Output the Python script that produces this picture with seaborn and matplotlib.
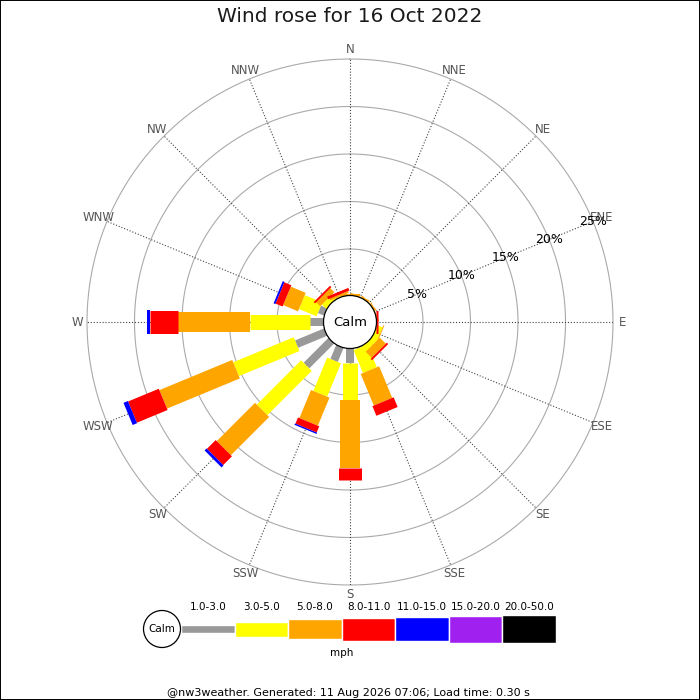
import numpy as np
import matplotlib
matplotlib.use('Agg')
import matplotlib.pyplot as plt
from matplotlib.patches import Circle, Rectangle
import seaborn as sns

sns.set_theme(style="white", rc={'text.color': '#1a1a1a'})
plt.rcParams['font.family'] = ['DejaVu Sans']

# Wind direction sectors (clockwise from north)
directions = ['N', 'NNE', 'NE', 'ENE', 'E', 'ESE', 'SE', 'SSE',
              'S', 'SSW', 'SW', 'WSW', 'W', 'WNW', 'NW', 'NNW']
speed_bins = ['1.0-3.0', '3.0-5.0', '5.0-8.0', '8.0-11.0',
              '11.0-15.0', '15.0-20.0', '20.0-50.0']

# % of time per sector and speed bin
pct_1_3   = [0, 0, 0, 0, 0, 0, 0, 0.2, 1.6, 1.7, 3.8, 3.4, 1.5, 0.8, 0, 0]
pct_3_5   = [0.1, 0.05, 0.05, 0.1, 0, 0.7, 0.7, 2.6, 3.9, 3.8, 6.6, 6.9, 6.3, 2.0, 0.7, 0.2]
pct_5_8   = [0.2, 0.15, 0.15, 0.1, 0.1, 0.1, 0.9, 3.6, 7.2, 3.2, 5.7, 8.3, 7.6, 1.7, 0.6, 0.2]
pct_8_11  = [0, 0, 0, 0, 0.2, 0, 0.2, 1.1, 1.2, 0.7, 1.3, 3.5, 3.0, 0.8, 0.2, 0.3]
pct_11_15 = [0, 0, 0, 0, 0, 0, 0, 0, 0, 0.15, 0.3, 0.5, 0.3, 0.2, 0, 0]
pct_15_20 = [0] * 16
pct_20_50 = [0] * 16

ring_pcts = [5, 10, 15, 20, 25]
ring_labels = ['5%', '10%', '15%', '20%', '25%']

colors = sns.color_palette(['#999999', '#ffff00', '#ffa500', '#ff0000',
                            '#0000ff', '#a020f0', '#000000'])
bar_px = np.array([8, 15, 20, 23, 24, 27, 28])  # bar thickness grows with speed

fig = plt.figure(figsize=(7, 7), dpi=100)
fig.patch.set_facecolor('white')

R = 263 / 700
ax = fig.add_axes([0.5 - R, 0.54 - R, 2 * R, 2 * R], projection='polar')
ax.set_theta_zero_location('N')
ax.set_theta_direction(-1)
ax.set_ylim(0, 25)
ax.set_rorigin(-2.685)
ax.grid(False)
ax.set_xticklabels([])
ax.set_yticklabels([])
for sp in ax.spines.values():
    sp.set_visible(False)
ax.set_facecolor('white')

thetas = np.deg2rad(np.arange(16) * 22.5)

# rings and spokes
circ = np.linspace(0, 2 * np.pi, 400)
for r in ring_pcts:
    ax.plot(circ, np.full_like(circ, r), color='#aaaaaa', lw=0.8, zorder=1,
            clip_on=False)
ax.vlines(thetas, 0, 25, colors='#444444', linestyles=':', lw=0.8, zorder=1)

# stacked bars
series = [pct_1_3, pct_3_5, pct_5_8, pct_8_11, pct_11_15, pct_15_20, pct_20_50]
bottom = np.zeros(16)
for vals, c, w in zip(series, colors, bar_px):
    vals = np.array(vals, dtype=float)
    m = vals > 0
    ax.vlines(thetas[m], bottom[m], bottom[m] + vals[m], colors=[c],
              lw=w * 0.72, capstyle='butt', zorder=3)
    bottom += vals

# calm circle
ax.add_patch(Circle((0.5, 0.5), 26.5 / 526, transform=ax.transAxes,
                    facecolor='white', edgecolor='black', lw=0.9,
                    zorder=5, clip_on=False))
ax.text(0.5, 0.5, 'Calm', transform=ax.transAxes, ha='center', va='center',
        fontsize=9.5, color='black', zorder=6)

# direction labels
for t, d in zip(thetas, directions):
    ax.text(t, 26, d, ha='center', va='center', fontsize=8.5, color='#555555')

# percentage labels along ENE
for r, lab in zip(ring_pcts, ring_labels):
    ax.text(np.deg2rad(67.5), r, lab, ha='center', va='center',
            fontsize=9, color='black', zorder=4)

fig.text(0.5, 1 - 17 / 700, 'Wind rose for 16 Oct 2022', ha='center',
         va='center', fontsize=14.5)

# speed legend
ax_leg = fig.add_axes([181 / 700, (700 - 659) / 700, 375 / 700, 60 / 700])
ax_leg.set_xlim(0, 7)
ax_leg.set_ylim(-30, 30)
ax_leg.axis('off')
xs = np.arange(7) + 0.5
ax_leg.bar(xs, bar_px, bottom=-bar_px / 2, width=1.0, color=colors)
for x, lab in zip(xs, speed_bins):
    ax_leg.text(x, 22, lab, ha='center', va='center', fontsize=7.5, color='black')
ax_leg.text(3.0, -24, 'mph', ha='center', va='center', fontsize=7.5, color='black')

fig.patches.append(Circle((162 / 700, 1 - 629 / 700), 18.5 / 700,
                          transform=fig.transFigure, facecolor='white',
                          edgecolor='black', lw=0.9))
fig.text(162 / 700, 1 - 629 / 700, 'Calm', ha='center', va='center',
         fontsize=7.5, color='black')

fig.text(348 / 700, 1 - 693 / 700,
         '@nw3weather. Generated: 11 Aug 2026 07:06; Load time: 0.30 s',
         ha='center', va='center', fontsize=8, color='black')

fig.patches.append(Rectangle((0, 0), 1, 1, transform=fig.transFigure,
                             fill=False, edgecolor='black', lw=1.4))

fig.savefig('out.png', dpi=100)
